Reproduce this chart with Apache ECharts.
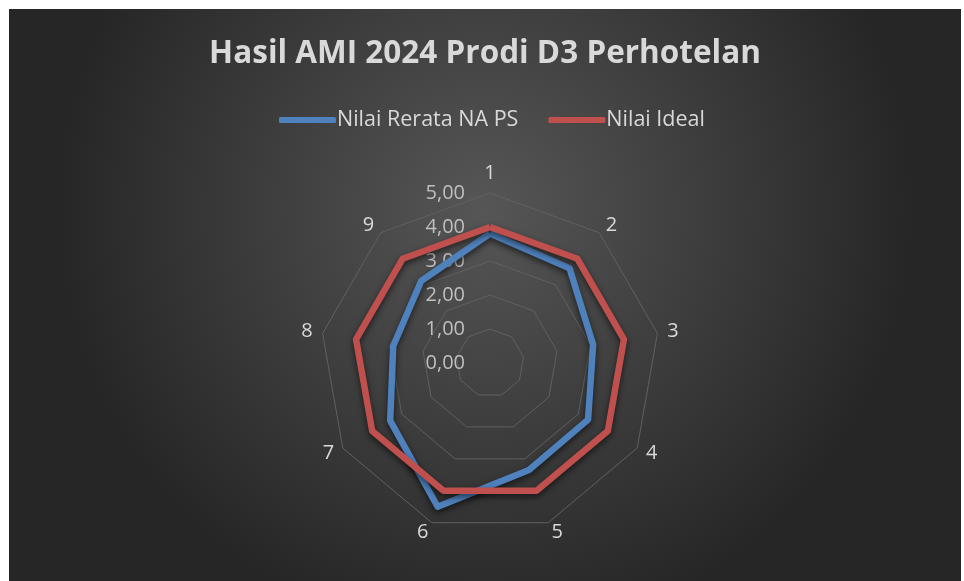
<!DOCTYPE html>
<html>
<head>
<meta charset="utf-8">
<script src="https://cdn.jsdelivr.net/npm/echarts@6/dist/echarts.min.js"></script>
<style>
html,body{margin:0;padding:0;background:#ffffff;}
#chart{position:absolute;left:9px;top:9px;width:952px;height:572px;}
</style>
</head>
<body>
<div id="chart"></div>
<script>
const categories = ['1','2','3','4','5','6','7','8','9'];
const seriesNames = ['Nilai Rerata NA PS','Nilai Ideal'];
const rerata = [3.81, 3.64, 3.08, 3.33, 3.35, 4.50, 3.39, 2.89, 3.15];
const ideal = [4.00, 4.00, 4.00, 4.00, 4.00, 4.00, 4.00, 4.00, 4.00];
const axisMax = 5;
const colors = ['#4F81BD', '#C0504D'];

// ECharts radar runs counter-clockwise; reorder so categories go clockwise (1 at top)
const order = [0].concat(categories.map((_, i) => i).slice(1).reverse());
const reorder = arr => order.map(i => arr[i]);

const chart = echarts.init(document.getElementById('chart'));
const textColor = '#d9d9d9';
const font = '"Open Sans", sans-serif';

const indicators = reorder(categories).map((c, i) => {
  const o = { name: c, max: axisMax, min: 0 };
  if (i === 0) {
    o.axisLabel = {
      show: true, color: '#bfbfbf', fontSize: 20, fontFamily: font, margin: 25,
      formatter: v => Number(v).toFixed(2).replace('.', ',')
    };
  }
  return o;
});

chart.setOption({
  backgroundColor: {
    type: 'radial', x: 0.5, y: 0.35, r: 0.75,
    colorStops: [{offset: 0, color: '#565656'}, {offset: 1, color: '#262626'}]
  },
  title: {
    text: 'Hasil AMI 2024 Prodi D3 Perhotelan',
    left: 'center', top: 24,
    textStyle: { color: textColor, fontSize: 31.5, fontWeight: 'bold', fontFamily: font }
  },
  legend: {
    data: seriesNames, top: 95, left: 265, itemGap: 30,
    itemWidth: 57, itemHeight: 6, icon: 'roundRect',
    textStyle: { color: textColor, fontSize: 21.5, fontFamily: font, padding: [0,0,0,-4] }
  },
  radar: {
    center: [481, 354], radius: 170, startAngle: 90,
    shape: 'polygon', splitNumber: 5,
    indicator: indicators,
    axisName: { color: textColor, fontSize: 20, fontFamily: font },
    nameGap: 10,
    axisLine: { show: false },
    axisTick: { show: false },
    axisLabel: { show: false },
    splitLine: { lineStyle: { color: '#606060', width: 1 } },
    splitArea: { show: false }
  },
  series: [{
    type: 'radar',
    symbol: 'none',
    data: [
      { name: seriesNames[0], value: reorder(rerata),
        lineStyle: { color: colors[0], width: 6.5, shadowColor: 'rgba(0,0,0,0.6)', shadowBlur: 6, shadowOffsetY: 3 },
        itemStyle: { color: colors[0] } },
      { name: seriesNames[1], value: reorder(ideal),
        lineStyle: { color: colors[1], width: 6.5, shadowColor: 'rgba(0,0,0,0.6)', shadowBlur: 6, shadowOffsetY: 3 },
        itemStyle: { color: colors[1] } }
    ]
  }]
});
</script>
</body>
</html>
